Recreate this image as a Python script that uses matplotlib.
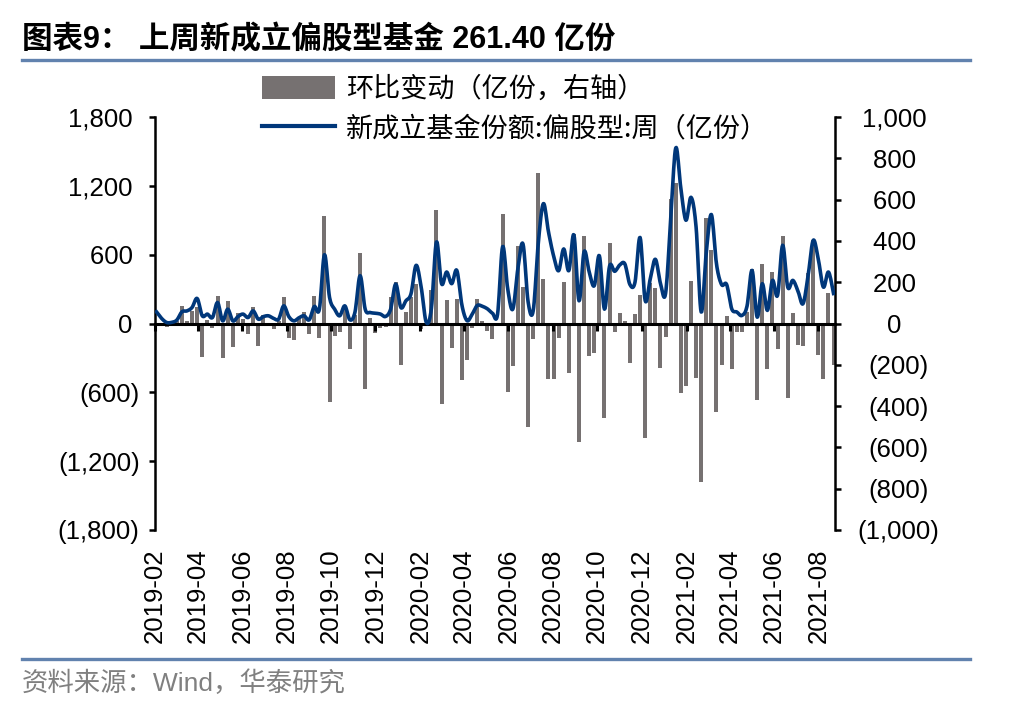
# -*- coding: utf-8 -*-
# 图表9: 上周新成立偏股型基金 261.40 亿份
import numpy as np
import pandas as pd
import matplotlib
matplotlib.use("Agg")
import matplotlib.pyplot as plt
import matplotlib.dates as mdates
import matplotlib.transforms as mtransforms
from matplotlib.patches import Patch
from matplotlib.lines import Line2D
from matplotlib.ticker import FixedLocator, FuncFormatter

plt.rcParams["font.family"] = ["Liberation Sans", "Noto Sans CJK SC"]

# ---- 数据（周度，读图估计） ----
fechas = pd.date_range("2019-02-03", periods=134, freq="7D")

# 新成立基金份额:偏股型:周（亿份，左轴）
fondo_nuevo = [
    102, 45, 9, 10, 30, 102, 110, 140, 218, 67,
    82, 52, 183, 23, 125, 23, 60, 82, 52, 110,
    38, 60, 67, 45, 38, 154, 60, 23, 50, 67,
    32, 148, 125, 600, 227, 125, 67, 154, 32, 100,
    417, 125, 96, 90, 82, 61, 125, 344, 140, 198,
    259, 507, 317, 10, 130, 711, 347, 449, 347, 463,
    160, 25, 80, 157, 150, 128, 90, 80, 670, 300,
    125, 480, 693, 190, 110, 700, 1045, 800, 591, 460,
    650, 460, 772, 198, 626, 450, 329, 591, 125, 500,
    455, 510, 520, 340, 360, 750, 200, 390, 560, 350,
    260, 900, 1530, 1180, 900, 1100, 840, 100, 620, 950,
    520, 340, 340, 128, 100, 70, 150, 463, 55, 347,
    114, 376, 245, 682, 317, 376, 285, 172, 416, 725,
    562, 317, 449, 261.40,
]

# 环比变动（亿份，右轴）
cambio = [
    0, -10, -15, 5, 10, 86, 10, 60, 80, -160,
    15, -24, 131, -167, 110, -112, 53, 20, -52, 82,
    -107, 40, -10, -27, 10, 126, -71, -81, 30, 58,
    -52, 131, -68, 519, -380, -60, -40, 86, -125, 40,
    340, -315, 29, -47, -20, -19, 126, 200, -199, 55,
    128, 193, -26, -10, 160, 548, -390, 112, -118, 120,
    -273, -179, -20, 120, 10, -34, -74, -10, 529, -332,
    -205, 377, 178, -500, -76, 730, 215, -267, -267, -68,
    199, -241, 434, -574, 426, -157, -141, 328, -460, 390,
    -42, 53, 12, -190, 48, 140, -555, 196, 172, -216,
    -65, 602, 680, -338, -305, 204, -265, -766, 512, 358,
    -427, -200, 34, -218, -40, -42, 55, 266, -370, 290,
    -220, 250, -124, 425, -360, 52, -104, -108, 245, 406,
    -152, -269, 146, -200,
]

ticks_izq = [-1800, -1200, -600, 0, 600, 1200, 1800]
ticks_der = [-1000, -800, -600, -400, -200, 0, 200, 400, 600, 800, 1000]

titulo = "图表9： 上周新成立偏股型基金 261.40 亿份"
etiquetas = ["环比变动（亿份，右轴）", "新成立基金份额:偏股型:周（亿份）"]
fuente = "资料来源：Wind，华泰研究"

color_barra = "#767171"
color_linea = "#00377A"
color_regla = "#6182AE"


def suavizar(x, y, n=10):
    # curva suave tipo Excel (Catmull-Rom) que pasa por los puntos
    x = np.asarray(x, float)
    y = np.asarray(y, float)
    px = np.concatenate([[x[0]], x, [x[-1]]])
    py = np.concatenate([[y[0]], y, [y[-1]]])
    t = np.linspace(0, 1, n, endpoint=False)
    xs, ys = [], []
    for i in range(1, len(x)):
        for arr, out in ((px, xs), (py, ys)):
            p0, p1, p2, p3 = arr[i - 1], arr[i], arr[i + 1], arr[i + 2]
            out.append(0.5 * (2 * p1 + (-p0 + p2) * t
                              + (2 * p0 - 5 * p1 + 4 * p2 - p3) * t ** 2
                              + (-p0 + 3 * p1 - 3 * p2 + p3) * t ** 3))
    xs.append([x[-1]])
    ys.append([y[-1]])
    return np.concatenate(xs), np.concatenate(ys)


def fmt_num(v, pos):
    if v < 0:
        return "({:,.0f})".format(-v)
    return "{:,.0f} ".format(v)


W, H = 1034, 720
fig = plt.figure(figsize=(W / 100, H / 100), dpi=100)
ax = fig.add_axes([155 / W, 1 - 530 / H, 680 / W, 413 / H])
ax2 = ax.twinx()

# barras en eje derecho, linea en eje izquierdo (por encima)
ax2.bar(fechas, cambio, width=5.6, color=color_barra, zorder=2)
ax.set_zorder(ax2.get_zorder() + 1)
ax.patch.set_visible(False)

xn = mdates.date2num(fechas)
xs, ys = suavizar(xn, fondo_nuevo)
ax.plot(xs, ys, color=color_linea, lw=2.6, solid_joinstyle="round", zorder=3)

ax.set_xlim(pd.Timestamp("2019-02-01"), pd.Timestamp("2021-08-24"))
ax.set_ylim(-1800, 1800)
ax2.set_ylim(-1000, 1000)

ax.yaxis.set_major_locator(FixedLocator(ticks_izq))
ax2.yaxis.set_major_locator(FixedLocator(ticks_der))
ax.yaxis.set_major_formatter(FuncFormatter(fmt_num))
ax2.yaxis.set_major_formatter(FuncFormatter(fmt_num))

for a in (ax, ax2):
    a.spines["top"].set_visible(False)
    a.spines["bottom"].set_visible(False)
    a.spines["left"].set_linewidth(1.8)
    a.spines["right"].set_linewidth(1.8)
ax.spines["right"].set_visible(False)
ax2.spines["left"].set_visible(False)

ax.tick_params(axis="y", direction="out", length=4.5, width=1.8,
               labelsize=18.5, pad=6.5)
ax2.tick_params(axis="y", direction="out", length=4.5, width=1.8,
                labelsize=18.5, pad=41)
for lbl in ax2.get_yticklabels():
    lbl.set_horizontalalignment("center")

# eje x en cero
ax.spines["bottom"].set_visible(True)
ax.spines["bottom"].set_position(("data", 0))
ax.spines["bottom"].set_linewidth(2.2)
ax.xaxis.set_major_locator(mdates.MonthLocator(bymonth=[2, 4, 6, 8, 10, 12]))
ax.tick_params(axis="x", direction="out", length=5, width=2.2,
               labelbottom=False)
ax2.tick_params(axis="x", bottom=False, labelbottom=False)

trans = mtransforms.blended_transform_factory(ax.transData, ax.transAxes)
for t in ax.get_xticks():
    if ax.get_xlim()[0] <= t <= ax.get_xlim()[1]:
        ax.text(t, -0.045, mdates.num2date(t).strftime("%Y-%m"),
                transform=trans, rotation=90, ha="center", va="top",
                fontsize=18.5)

# leyenda
handles = [Patch(facecolor=color_barra, edgecolor="none"),
           Line2D([], [], color=color_linea, lw=3)]
fig.legend(handles, etiquetas, loc="upper left",
           bbox_to_anchor=(262 / W, 1 - 76 / H), frameon=False,
           handlelength=2.7, handleheight=0.9,
           handletextpad=0.4, labelspacing=0.45, borderpad=0,
           borderaxespad=0, prop={"family": ["Noto Sans CJK SC"], "size": 19.5})

# titulo, reglas y fuente
fig.text(22 / W, 1 - 40 / H, titulo, fontsize=22, fontweight="bold",
         ha="left", va="center")
fig.add_artist(Line2D([22 / W, 970 / W], [1 - 60 / H] * 2,
                      color=color_regla, lw=2.4))
fig.add_artist(Line2D([22 / W, 970 / W], [1 - 659 / H] * 2,
                      color=color_regla, lw=2.4))
fig.text(22 / W, 1 - 683 / H, fuente, fontsize=19, color="#808080",
         ha="left", va="center")

fig.savefig("out.png", dpi=100)
